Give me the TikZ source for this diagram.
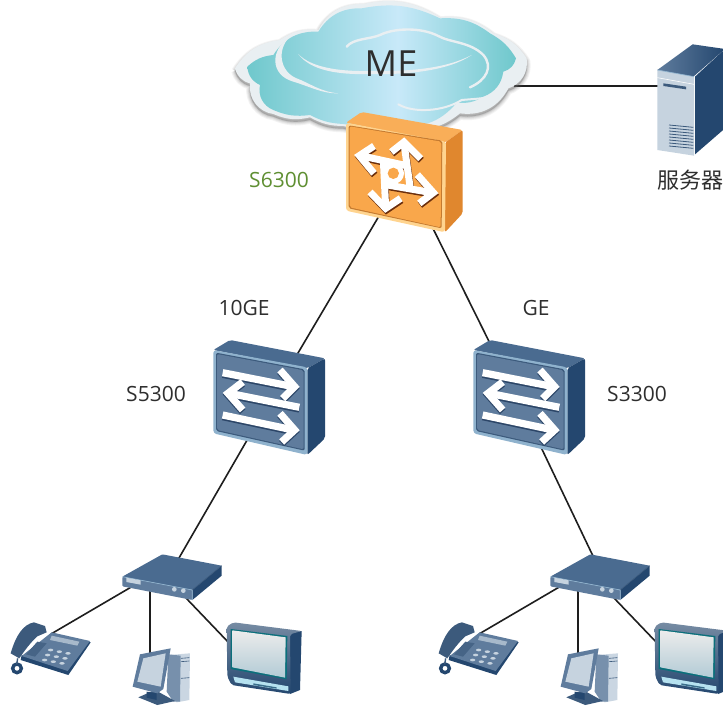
\documentclass[tikz,border=0pt]{standalone}
\usepackage{fontspec}
\setmainfont{Open Sans}
\newfontfamily\cjkfont{Noto Sans CJK SC}
\usetikzlibrary{calc}
\definecolor{ctext}{HTML}{2E2E2E}
\definecolor{cgreen}{HTML}{5F8F32}
\definecolor{cline}{HTML}{1E1E1E}
\definecolor{tealc}{HTML}{6FC8CC}
\definecolor{skyc}{HTML}{C8E9F9}
\definecolor{bandc}{HTML}{E9EFF2}
\definecolor{bluetop}{HTML}{4A6B90}
\definecolor{bluefront}{HTML}{5F7C9D}
\definecolor{blueedge}{HTML}{8FB2CD}
\definecolor{blueinner}{HTML}{3C5A7C}
\definecolor{blueside}{HTML}{24476F}
\definecolor{blueshadow}{HTML}{2C4668}
\definecolor{lightpanel}{HTML}{C6D3DF}
\definecolor{orgtop}{HTML}{F9AE58}
\definecolor{orgfront}{HTML}{F9A74B}
\definecolor{orgedge}{HTML}{FFD48F}
\definecolor{orginner}{HTML}{C47A30}
\definecolor{orgside}{HTML}{E0872E}
\definecolor{orgshadow}{HTML}{6B2E0C}
\pgfdeclarehorizontalshading{cloudsh}{100bp}{color(0bp)=(tealc);color(25bp)=(tealc);color(53bp)=(skyc);color(75bp)=(tealc);color(100bp)=(tealc)}
\tikzset{
  x=1pt,y=-1pt,
  lbl/.style={text=ctext,font=\fontsize{21}{24}\selectfont,inner sep=0pt},
  link/.style={draw=cline,line width=1.6pt},
  wbar/.style={draw=white,line width=7.2pt,miter limit=10},
  sbar/.style={draw=blueshadow,line width=7.2pt,miter limit=10},
  obar/.style={draw=white,line width=7pt,miter limit=10},
  oshad/.style={draw=orgshadow,line width=7pt,miter limit=10},
  band/.style={draw=bandc,line width=1.8pt,line cap=round},
}
\newcommand{\bluearrows}[1]{%
  \draw[#1] (68,128)--(280,170);
  \draw[#1] (240,120)--(284,170)--(248,206);
  \draw[#1] (298,232)--(88,190);
  \draw[#1] (128,156)--(84,190)--(128,240);
  \draw[#1] (68,255)--(280,300);
  \draw[#1] (240,250)--(284,300)--(245,336);
}
\newcommand{\blueswitch}[2]{%
  \begin{scope}[shift={(#1,#2)},scale=1/3]
    \fill[bluetop,rounded corners=2pt] (40,60)--(90,30)--(375,85)--(322,115)--cycle;
    \fill[blueside,rounded corners=2pt] (322,115)--(375,85)--(375,325)--(322,375)--cycle;
    \fill[blueedge,rounded corners=3pt] (40,60)--(322,112)--(322,375)--(40,310)--cycle;
    \fill[blueinner,rounded corners=2pt] (48,68)--(314,118)--(314,362)--(48,303)--cycle;
    \fill[bluefront,rounded corners=2pt] (51,72)--(311,121)--(311,358)--(51,300)--cycle;
    \begin{scope}[shift={(0,5)}]\bluearrows{sbar}\end{scope}
    \bluearrows{wbar}
  \end{scope}}
\newcommand{\orangearrows}[1]{%
  \draw[#1] (392,467)--(530,497);
  \draw[#1] (432,438)--(388,467)--(432,520);
  \draw[#1] (522,430)--(540,560);
  \draw[#1] (484,456)--(522,426)--(572,476);
  \draw[#1] (606,578)--(455,552);
  \draw[#1] (562,524)--(610,578)--(568,610);
  \draw[#1] (467,622)--(460,480);
  \draw[#1] (420,576)--(467,625)--(512,595);
}
\newcommand{\cpeicon}{%
  \fill[bluetop,rounded corners=1pt] (367,95)--(487,28)--(665,62)--(577,135)--cycle;
  \fill[blueside] (577,135)--(665,62)--(665,92)--(577,165)--cycle;
  \fill[bluefront,rounded corners=1pt] (367,95)--(577,135)--(577,165)--(367,124)--cycle;
  \draw[blueedge,line width=.7pt] (367,95)--(577,135)--(577,165);
  \draw[blueinner,line width=.6pt] (577,135)--(665,62);
  \fill[lightpanel] (379,98)--(422,106)--(422,119)--(379,111)--cycle;
  \fill[lightpanel] (523,133) circle (7);
  \fill[lightpanel] (550,137) circle (7);
}
\newcommand{\phoneicon}{%
  \fill[blueside] (62,345)--(205,390)--(272,292)--(262,288)--(200,375)--(65,330)--cycle;
  \fill[bluefront] (65,333)--(155,262)--(270,288)--(203,378)--cycle;
  \fill[blueinner] (32,325) .. controls (48,270) and (70,238) .. (102,232)
     -- (135,243) -- (140,262) -- (112,274) .. controls (92,292) and (75,315) .. (58,340) --cycle;
  \fill[lightpanel!70!bluefront] (155,272)--(238,290)--(232,302)--(150,285)--cycle;
  \fill[blueinner!70!bluefront] (112,290)--(140,295)--(105,335)--(78,328)--cycle;
  \foreach \kx/\ky in {152/315,178/320,204/325,143/330,169/335,195/340,134/345,160/350,186/355}
    \fill[lightpanel] (\kx,\ky) ellipse (8 and 4);
  \draw[blueside,line width=3.4pt] (51,370) circle (13);
  \draw[blueinner,line width=1.4pt] (53,340)--(50,358);
}
\newcommand{\pcicon}{%
  \fill[lightpanel!92!white] (505,330)--(570,325)--(568,465)--(530,472)--(505,440)--cycle;
  \fill[bluefront!85!white] (505,328)--(542,332)--(540,470)--(520,470)--(500,440)--cycle;
  \draw[blueinner,line width=.6pt] (543,340)--(568,338) (543,350)--(568,348) (543,400)--(568,398);
  \fill[blueinner] (415,457)--(465,435)--(525,468)--(472,480)--cycle;
  \fill[bluefront] (398,425)--(420,328)--(512,310)--(490,432)--(472,445)--cycle;
  \fill[lightpanel] (412,410)--(430,340)--(497,325)--(482,425)--cycle;
  \fill[blueside] (440,440)--(470,445)--(470,465)--(440,458)--cycle;
}
\newcommand{\tvicon}{%
  \fill[blueside] (870,265)--(905,258)--(900,435)--(870,447)--cycle;
  \shade[top color=blueinner!70!white,bottom color=blueside,rounded corners=2pt] (680,245)--(700,232)--(905,258)--(870,268)--(872,447)--(695,420)--(682,395)--cycle;
  \fill[teal!70!blueside] (692,252)--(862,273)--(860,403)--(692,372)--cycle;
  \shade[top color=gray!15,bottom color=lightpanel!90!teal] (697,256)--(857,277)--(855,398)--(697,367)--cycle;
  \fill[skyc!80!tealc] (700,395)--(865,424)--(865,438)--(705,412)--cycle;
  \fill[blueside!70!tealc] (760,415)--(830,427)--(830,431)--(760,420)--cycle;
}
\newcommand{\accessgroup}[1]{%
  \begin{scope}[shift={(#1,545)},scale=1/3]
    \phoneicon \pcicon \tvicon \cpeicon
  \end{scope}}
\begin{document}
\begin{tikzpicture}
\path[use as bounding box,clip] (0,0) rectangle (723,706);
\fill[white] (0,0) rectangle (723,706);
% anchor points of the devices
\coordinate (cloudme) at (514,86);
\coordinate (server) at (665,86);
\coordinate (s6300) at (405,172);
\coordinate (s5300) at (272,397);
\coordinate (s3300) at (528,420);
\coordinate (cpeLup) at (168,577);
\coordinate (cpeRup) at (603,577);
\coordinate (cpeLa) at (133,586);
\coordinate (cpeLb) at (150,590);
\coordinate (cpeLc) at (186,598);
\coordinate (cpeRa) at (561,586);
\coordinate (cpeRb) at (578,590);
\coordinate (cpeRc) at (614,598);
\coordinate (phoneL) at (51,634);
\coordinate (pcL) at (150,656);
\coordinate (tvL) at (230,644);
\coordinate (phoneR) at (479,634);
\coordinate (pcR) at (578,656);
\coordinate (tvR) at (658,644);
% connectors
\draw[link] (cloudme) -- (server);
\draw[link] (s6300) -- (s5300);
\draw[link] (s6300) -- (s3300);
\draw[link] (s5300) -- (cpeLup);
\draw[link] (s3300) -- (cpeRup);
\draw[link] (cpeLa) -- (phoneL);
\draw[link] (cpeLb) -- (pcL);
\draw[link] (cpeLc) -- (tvL);
\draw[link] (cpeRa) -- (phoneR);
\draw[link] (cpeRb) -- (pcR);
\draw[link] (cpeRc) -- (tvR);
% cloud
\begin{scope}[shift={(230,0)},scale=1/3]
  \def\outercloud{(15,205) to[bend left=25] (150,120) to[bend left=20] (265,90) to[bend left=32] (400,12) to[bend left=22] (630,52) to[bend left=22] (790,100) to[bend left=20] (890,175) to[bend left=40] (835,265) to[bend left=35] (690,340) to[bend left=28] (500,378) to[bend left=14] (340,378) to[bend left=14] (240,352) to[bend left=18] (130,342) to[bend left=45] (60,250) to[bend left=30] (15,205)}
  \foreach \w/\o in {22/.08,16/.09,10/.11,5/.13}
    \draw[black!60,line width=\w/3 pt,opacity=\o,line join=round,fill=black!60,fill opacity=\o,shift={(0,8)}] \outercloud;
  \fill[bandc] \outercloud;
  \shade[shading=cloudsh] (52,200) to[bend left=18] (130,165) to[bend left=30] (265,95)
     to[bend left=30] (395,25) to[bend left=18] (630,55) to[bend left=20] (780,100)
     to[bend left=15] (858,175) to[bend left=30] (820,215) to[bend left=30] (760,290)
     to[bend left=18] (680,308) to[bend left=32] (490,372) to[bend left=10] (340,372)
     to[bend left=12] (240,345) to[bend left=15] (130,330) to[bend left=40] (90,255)
     to[bend left=30] (52,200) -- cycle;
  % highlights
  \fill[bandc] (178,112) .. controls (120,150) and (120,225) .. (190,245)
     .. controls (240,260) and (280,282) .. (325,280)
     .. controls (270,275) and (240,250) .. (200,235)
     .. controls (150,215) and (140,150) .. (178,112) -- cycle;
  \fill[bandc] (205,162) .. controls (240,210) and (320,225) .. (420,222)
     .. controls (540,225) and (660,210) .. (725,165)
     .. controls (650,205) and (540,215) .. (420,213)
     .. controls (320,215) and (240,200) .. (205,162) -- cycle;
  \draw[band,line width=2.4pt] (350,140) .. controls (370,115) and (420,118) .. (450,105)
     .. controls (490,85) and (570,80) .. (625,108)
     .. controls (660,128) and (720,125) .. (760,165)
     .. controls (790,200) and (770,240) .. (720,262);
  \draw[band,line width=2pt] (505,313) .. controls (550,340) and (640,335) .. (695,300)
     .. controls (750,295) and (800,295) .. (830,268);
\end{scope}
% orange core switch
\begin{scope}[shift={(230,0)},scale=1/3]
  \fill[orgtop,rounded corners=2pt] (348,368)--(395,336)--(698,390)--(645,428)--cycle;
  \fill[orgside,rounded corners=2pt] (645,428)--(698,390)--(698,640)--(645,697)--cycle;
  \fill[orgedge,rounded corners=3pt] (348,368)--(648,425)--(645,697)--(348,632)--cycle;
  \fill[orginner,rounded corners=2pt] (356,376)--(637,422)--(635,685)--(356,625)--cycle;
  \fill[orgfront,rounded corners=2pt] (359,379)--(634,425)--(632,682)--(359,622)--cycle;
  \begin{scope}[shift={(2,5)}]\orangearrows{oshad}\end{scope}
  \orangearrows{obar}
  \fill[white] (490,520) circle (32);
  \fill[orgfront] (490,520) circle (17);
\end{scope}
% aggregation switches
\blueswitch{200}{330}
\blueswitch{460}{330}
% access devices
\accessgroup{0}
\accessgroup{428}
% server
\begin{scope}[shift={(640,35)},scale=1/3]
  \shade[left color=bluefront,right color=blueside] (52,105)--(158,28)--(255,42)--(160,125)--cycle;
  \fill[blueside] (165,125)--(255,42)--(255,280)--(165,358)--cycle;
  \fill[lightpanel] (52,105)--(162,125)--(162,362)--(52,345)--cycle;
  \draw[white,line width=.6pt] (52,128)--(162,148);
  \draw[blueedge,line width=.7pt] (52,105)--(162,125);
  \fill[blueinner] (70,145)--(138,155)--(138,163)--(70,153)--cycle;
  \foreach \gy in {270,279,288,297,306,315,324,333}
    \draw[blueinner,line width=.8pt] (87,\gy)--(160,\gy+7);
\end{scope}
% labels
\node[lbl,font=\fontsize{36}{40}\selectfont] (me) at (391,64) {ME};
\node[lbl,text=cgreen] (l6300) at (279,180) {S6300};
\node[lbl] (l10ge) at (244,308) {10GE};
\node[lbl] (lge) at (536,308) {GE};
\node[lbl] (l5300) at (156,394) {S5300};
\node[lbl] (l3300) at (637,394) {S3300};
\node[lbl,font=\cjkfont\fontsize{22}{24}\selectfont,anchor=west] (lsrv) at (657,180) {服务器};
\end{tikzpicture}
\end{document}
